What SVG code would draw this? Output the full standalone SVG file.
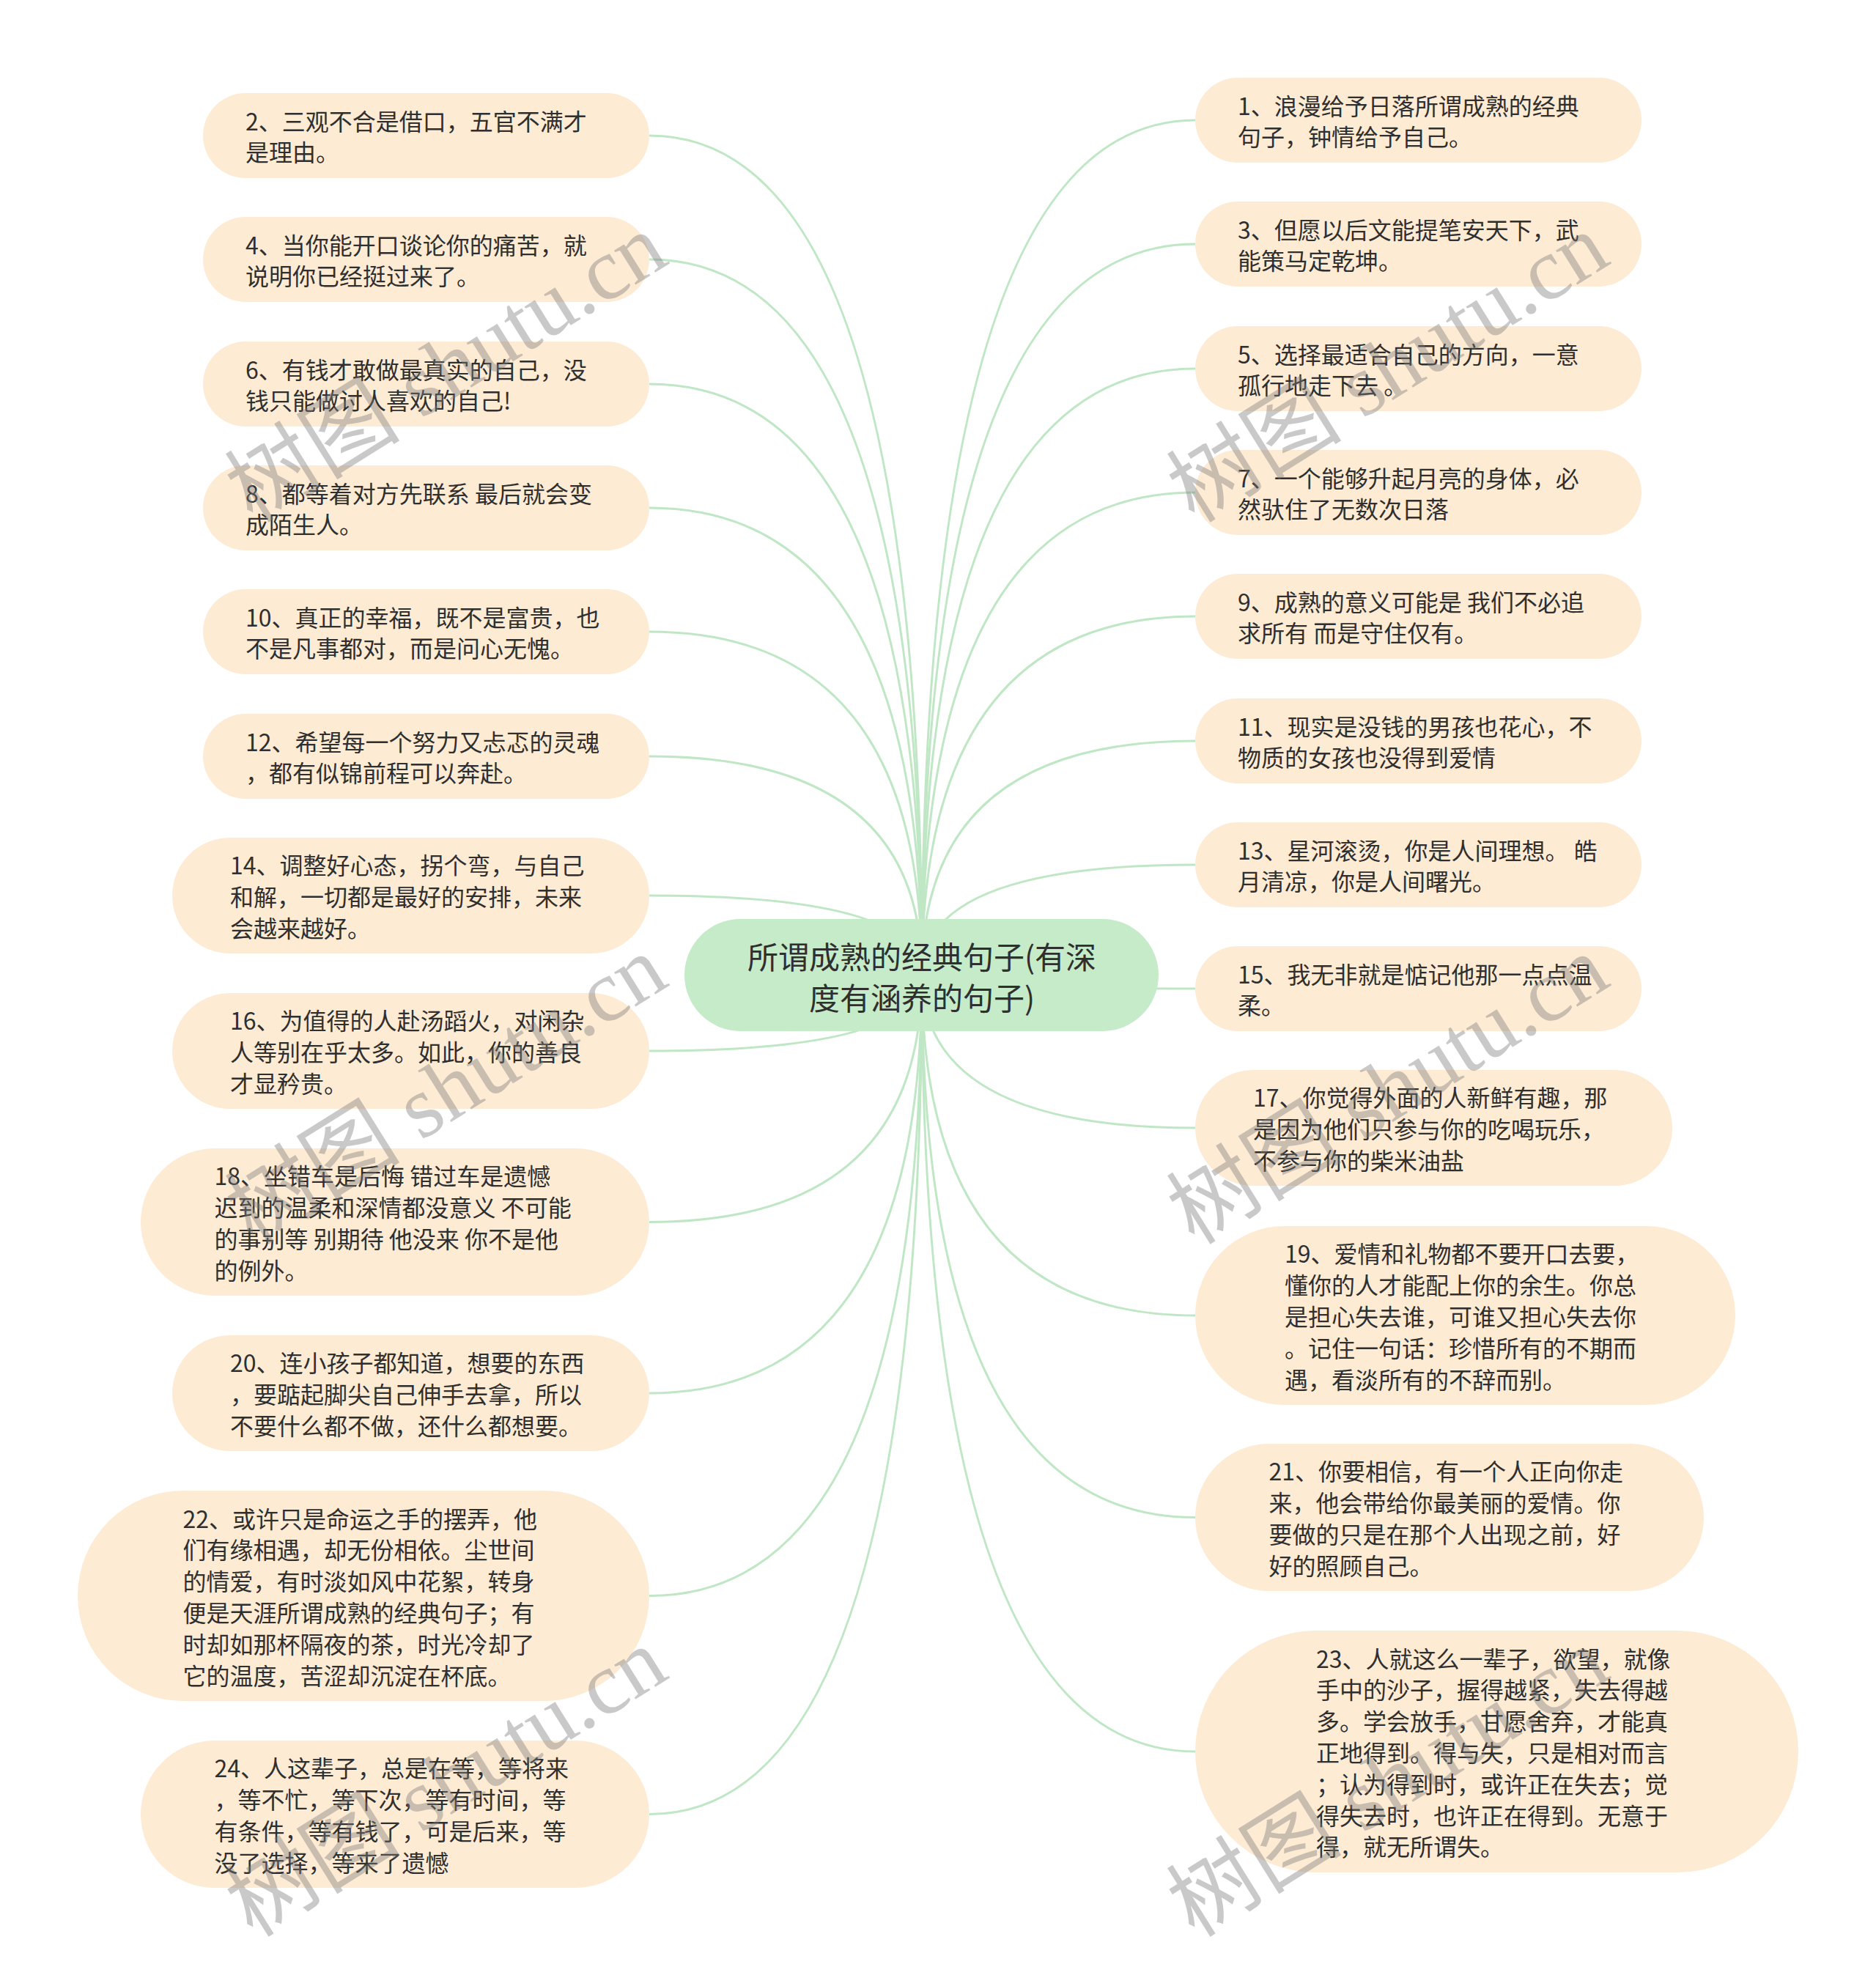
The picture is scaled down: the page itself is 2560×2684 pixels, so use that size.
<svg xmlns="http://www.w3.org/2000/svg" width="2560" height="2684" viewBox="0 0 2560 2684">
<style>
.edge{fill:none;stroke:#c0e7c5;stroke-width:3}
.box{fill:#fdebd4}
.root{fill:#c5ebc8}
.t{font-family:"Noto Sans CJK SC","Noto Sans",sans-serif;font-size:32px;fill:#2f2f2f;dominant-baseline:central}
.rt{font-family:"Noto Sans CJK SC","Noto Sans",sans-serif;font-size:42px;fill:#2f2f2f;dominant-baseline:central;text-anchor:middle}
.wm{font-family:"Liberation Serif","Noto Sans CJK SC",serif;font-size:120px;fill:#7a7a7a;opacity:0.4}
</style>
<rect width="2560" height="2684" fill="#ffffff"/>
<g id="connectors">
<path class="edge" d="M1258,1330 Q1258,185 886,185"/>
<path class="edge" d="M1258,1330 Q1258,354 886,354"/>
<path class="edge" d="M1258,1330 Q1258,524 886,524"/>
<path class="edge" d="M1258,1330 Q1258,693 886,693"/>
<path class="edge" d="M1258,1330 Q1258,862 886,862"/>
<path class="edge" d="M1258,1330 Q1258,1032 886,1032"/>
<path class="edge" d="M1258,1330 Q1258,1222 886,1222"/>
<path class="edge" d="M1258,1330 Q1258,1434 886,1434"/>
<path class="edge" d="M1258,1330 Q1258,1667.5 886,1667.5"/>
<path class="edge" d="M1258,1330 Q1258,1901 886,1901"/>
<path class="edge" d="M1258,1330 Q1258,2177.5 886,2177.5"/>
<path class="edge" d="M1258,1330 Q1258,2475.5 886,2475.5"/>
<path class="edge" d="M1258,1330 Q1258,164 1631,164"/>
<path class="edge" d="M1258,1330 Q1258,333 1631,333"/>
<path class="edge" d="M1258,1330 Q1258,503 1631,503"/>
<path class="edge" d="M1258,1330 Q1258,672 1631,672"/>
<path class="edge" d="M1258,1330 Q1258,841 1631,841"/>
<path class="edge" d="M1258,1330 Q1258,1011 1631,1011"/>
<path class="edge" d="M1258,1330 Q1258,1180 1631,1180"/>
<path class="edge" d="M1258,1330 Q1258,1349 1631,1349"/>
<path class="edge" d="M1258,1330 Q1258,1539 1631,1539"/>
<path class="edge" d="M1258,1330 Q1258,1795 1631,1795"/>
<path class="edge" d="M1258,1330 Q1258,2070.5 1631,2070.5"/>
<path class="edge" d="M1258,1330 Q1258,2390 1631,2390"/>
</g>
<g id="root">
<rect class="root" x="934" y="1254" width="647" height="153" rx="76.5"/>
<text class="rt" x="1258" y="1303"><tspan x="1258">所谓成熟的经典句子(有深</tspan><tspan x="1258" dy="56">度有涵养的句子)</tspan></text>
</g>
<g id="n2"><rect class="box" x="277" y="127" width="609" height="116" rx="58"/>
<text class="t" x="335" y="163.6"><tspan x="335">2、三观不合是借口，五官不满才</tspan><tspan x="335" dy="42.8">是理由。</tspan></text></g>
<g id="n4"><rect class="box" x="277" y="296" width="609" height="116" rx="58"/>
<text class="t" x="335" y="332.6"><tspan x="335">4、当你能开口谈论你的痛苦，就</tspan><tspan x="335" dy="42.8">说明你已经挺过来了。</tspan></text></g>
<g id="n6"><rect class="box" x="277" y="466" width="609" height="116" rx="58"/>
<text class="t" x="335" y="502.6"><tspan x="335">6、有钱才敢做最真实的自己，没</tspan><tspan x="335" dy="42.8">钱只能做讨人喜欢的自己!</tspan></text></g>
<g id="n8"><rect class="box" x="277" y="635" width="609" height="116" rx="58"/>
<text class="t" x="335" y="671.6"><tspan x="335">8、都等着对方先联系 最后就会变</tspan><tspan x="335" dy="42.8">成陌生人。</tspan></text></g>
<g id="n10"><rect class="box" x="277" y="804" width="609" height="116" rx="58"/>
<text class="t" x="335" y="840.6"><tspan x="335">10、真正的幸福，既不是富贵，也</tspan><tspan x="335" dy="42.8">不是凡事都对，而是问心无愧。</tspan></text></g>
<g id="n12"><rect class="box" x="277" y="974" width="609" height="116" rx="58"/>
<text class="t" x="335" y="1010.6"><tspan x="335">12、希望每一个努力又忐忑的灵魂</tspan><tspan x="335" dy="42.8">，都有似锦前程可以奔赴。</tspan></text></g>
<g id="n14"><rect class="box" x="235" y="1143" width="651" height="158" rx="79"/>
<text class="t" x="314" y="1179.2"><tspan x="314">14、调整好心态，拐个弯，与自己</tspan><tspan x="314" dy="42.8">和解，一切都是最好的安排，未来</tspan><tspan x="314" dy="42.8">会越来越好。</tspan></text></g>
<g id="n16"><rect class="box" x="235" y="1355" width="651" height="158" rx="79"/>
<text class="t" x="314" y="1391.2"><tspan x="314">16、为值得的人赴汤蹈火，对闲杂</tspan><tspan x="314" dy="42.8">人等别在乎太多。如此，你的善良</tspan><tspan x="314" dy="42.8">才显矜贵。</tspan></text></g>
<g id="n18"><rect class="box" x="192" y="1567" width="694" height="201" rx="100.5"/>
<text class="t" x="292.5" y="1603.3"><tspan x="292.5">18、坐错车是后悔 错过车是遗憾</tspan><tspan x="292.5" dy="42.8">迟到的温柔和深情都没意义 不可能</tspan><tspan x="292.5" dy="42.8">的事别等 别期待 他没来 你不是他</tspan><tspan x="292.5" dy="42.8">的例外。</tspan></text></g>
<g id="n20"><rect class="box" x="235" y="1822" width="651" height="158" rx="79"/>
<text class="t" x="314" y="1858.2"><tspan x="314">20、连小孩子都知道，想要的东西</tspan><tspan x="314" dy="42.8">，要踮起脚尖自己伸手去拿，所以</tspan><tspan x="314" dy="42.8">不要什么都不做，还什么都想要。</tspan></text></g>
<g id="n22"><rect class="box" x="106" y="2034" width="780" height="287" rx="143.5"/>
<text class="t" x="249.5" y="2070.5"><tspan x="249.5">22、或许只是命运之手的摆弄，他</tspan><tspan x="249.5" dy="42.8">们有缘相遇，却无份相依。尘世间</tspan><tspan x="249.5" dy="42.8">的情爱，有时淡如风中花絮，转身</tspan><tspan x="249.5" dy="42.8">便是天涯所谓成熟的经典句子；有</tspan><tspan x="249.5" dy="42.8">时却如那杯隔夜的茶，时光冷却了</tspan><tspan x="249.5" dy="42.8">它的温度，苦涩却沉淀在杯底。</tspan></text></g>
<g id="n24"><rect class="box" x="192" y="2375" width="694" height="201" rx="100.5"/>
<text class="t" x="292.5" y="2411.3"><tspan x="292.5">24、人这辈子，总是在等，等将来</tspan><tspan x="292.5" dy="42.8">，等不忙，等下次，等有时间，等</tspan><tspan x="292.5" dy="42.8">有条件，等有钱了，可是后来，等</tspan><tspan x="292.5" dy="42.8">没了选择，等来了遗憾</tspan></text></g>
<g id="n1"><rect class="box" x="1631" y="106" width="609" height="116" rx="58"/>
<text class="t" x="1689" y="142.6"><tspan x="1689">1、浪漫给予日落所谓成熟的经典</tspan><tspan x="1689" dy="42.8">句子，钟情给予自己。</tspan></text></g>
<g id="n3"><rect class="box" x="1631" y="275" width="609" height="116" rx="58"/>
<text class="t" x="1689" y="311.6"><tspan x="1689">3、但愿以后文能提笔安天下，武</tspan><tspan x="1689" dy="42.8">能策马定乾坤。</tspan></text></g>
<g id="n5"><rect class="box" x="1631" y="445" width="609" height="116" rx="58"/>
<text class="t" x="1689" y="481.6"><tspan x="1689">5、选择最适合自己的方向，一意</tspan><tspan x="1689" dy="42.8">孤行地走下去 。</tspan></text></g>
<g id="n7"><rect class="box" x="1631" y="614" width="609" height="116" rx="58"/>
<text class="t" x="1689" y="650.6"><tspan x="1689">7、一个能够升起月亮的身体，必</tspan><tspan x="1689" dy="42.8">然驮住了无数次日落</tspan></text></g>
<g id="n9"><rect class="box" x="1631" y="783" width="609" height="116" rx="58"/>
<text class="t" x="1689" y="819.6"><tspan x="1689">9、成熟的意义可能是 我们不必追</tspan><tspan x="1689" dy="42.8">求所有 而是守住仅有。</tspan></text></g>
<g id="n11"><rect class="box" x="1631" y="953" width="609" height="116" rx="58"/>
<text class="t" x="1689" y="989.6"><tspan x="1689">11、现实是没钱的男孩也花心，不</tspan><tspan x="1689" dy="42.8">物质的女孩也没得到爱情</tspan></text></g>
<g id="n13"><rect class="box" x="1631" y="1122" width="609" height="116" rx="58"/>
<text class="t" x="1689" y="1158.6"><tspan x="1689">13、星河滚烫，你是人间理想。 皓</tspan><tspan x="1689" dy="42.8">月清凉，你是人间曙光。</tspan></text></g>
<g id="n15"><rect class="box" x="1631" y="1291" width="609" height="116" rx="58"/>
<text class="t" x="1689" y="1327.6"><tspan x="1689">15、我无非就是惦记他那一点点温</tspan><tspan x="1689" dy="42.8">柔。</tspan></text></g>
<g id="n17"><rect class="box" x="1631" y="1460" width="651" height="158" rx="79"/>
<text class="t" x="1710" y="1496.2"><tspan x="1710">17、你觉得外面的人新鲜有趣，那</tspan><tspan x="1710" dy="42.8">是因为他们只参与你的吃喝玩乐，</tspan><tspan x="1710" dy="42.8">不参与你的柴米油盐</tspan></text></g>
<g id="n19"><rect class="box" x="1631" y="1673" width="737" height="244" rx="122"/>
<text class="t" x="1753" y="1709.4"><tspan x="1753">19、爱情和礼物都不要开口去要，</tspan><tspan x="1753" dy="42.8">懂你的人才能配上你的余生。你总</tspan><tspan x="1753" dy="42.8">是担心失去谁，可谁又担心失去你</tspan><tspan x="1753" dy="42.8">。记住一句话：珍惜所有的不期而</tspan><tspan x="1753" dy="42.8">遇，看淡所有的不辞而别。</tspan></text></g>
<g id="n21"><rect class="box" x="1631" y="1970" width="694" height="201" rx="100.5"/>
<text class="t" x="1731.5" y="2006.3"><tspan x="1731.5">21、你要相信，有一个人正向你走</tspan><tspan x="1731.5" dy="42.8">来，他会带给你最美丽的爱情。你</tspan><tspan x="1731.5" dy="42.8">要做的只是在那个人出现之前，好</tspan><tspan x="1731.5" dy="42.8">好的照顾自己。</tspan></text></g>
<g id="n23"><rect class="box" x="1631" y="2225" width="823" height="330" rx="165"/>
<text class="t" x="1796" y="2261.6"><tspan x="1796">23、人就这么一辈子，欲望，就像</tspan><tspan x="1796" dy="42.8">手中的沙子，握得越紧，失去得越</tspan><tspan x="1796" dy="42.8">多。学会放手，甘愿舍弃，才能真</tspan><tspan x="1796" dy="42.8">正地得到。得与失，只是相对而言</tspan><tspan x="1796" dy="42.8">；认为得到时，或许正在失去；觉</tspan><tspan x="1796" dy="42.8">得失去时，也许正在得到。无意于</tspan><tspan x="1796" dy="42.8">得，就无所谓失。</tspan></text></g>
<g id="watermarks">
<text class="wm" x="345" y="715" transform="rotate(-32 345 715)">树图 shutu.cn</text>
<text class="wm" x="1630" y="715" transform="rotate(-32 1630 715)">树图 shutu.cn</text>
<text class="wm" x="345" y="1700" transform="rotate(-32 345 1700)">树图 shutu.cn</text>
<text class="wm" x="1630" y="1700" transform="rotate(-32 1630 1700)">树图 shutu.cn</text>
<text class="wm" x="345" y="2645" transform="rotate(-32 345 2645)">树图 shutu.cn</text>
<text class="wm" x="1630" y="2645" transform="rotate(-32 1630 2645)">树图 shutu.cn</text>
</g>
</svg>
